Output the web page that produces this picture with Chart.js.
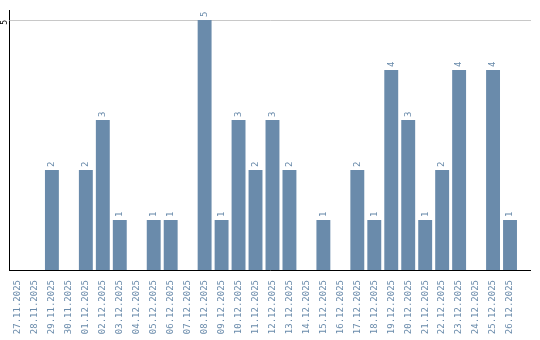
<!DOCTYPE html>
<html>
<head>
<meta charset="utf-8">
<script src="https://cdn.jsdelivr.net/npm/chart.js@4.4.1/dist/chart.umd.min.js"></script>
<style>
	html, body { margin: 0; padding: 0; background: #fff; }
	#wrap { width: 540px; height: 340px; }
</style>
</head>
<body>
<div id="wrap"><canvas id="myChart"></canvas></div>
<script>
const days = [
	'27.11.2025', '28.11.2025', '29.11.2025', '30.11.2025', '01.12.2025',
	'02.12.2025', '03.12.2025', '04.12.2025', '05.12.2025', '06.12.2025',
	'07.12.2025', '08.12.2025', '09.12.2025', '10.12.2025', '11.12.2025',
	'12.12.2025', '13.12.2025', '14.12.2025', '15.12.2025', '16.12.2025',
	'17.12.2025', '18.12.2025', '19.12.2025', '20.12.2025', '21.12.2025',
	'22.12.2025', '23.12.2025', '24.12.2025', '25.12.2025', '26.12.2025',
];
const counts = [0, 0, 2, 0, 2, 3, 1, 0, 1, 1, 0, 5, 1, 3, 2, 3, 2, 0, 1, 0, 2, 1, 4, 3, 1, 2, 4, 0, 4, 1];
const yTicks = [5];

const blue = '#6a8bab';

// value labels above bars, rotated like the axis labels
const barLabels = {
	id: 'barLabels',
	afterDatasetsDraw(chart) {
		const c = chart.ctx;
		const meta = chart.getDatasetMeta(0);
		c.save();
		c.fillStyle = blue;
		c.font = '9px "DejaVu Sans Mono"';
		c.textAlign = 'left';
		c.textBaseline = 'middle';
		meta.data.forEach((bar, i) => {
			const v = counts[i];
			if (!v) return;
			c.save();
			c.translate(bar.x, bar.y - 3);
			c.rotate(-Math.PI / 2);
			c.fillText(String(v), 0, 0);
			c.restore();
		});
		c.restore();
	},
};

// axis line and grid line run a bit past the last bar
const axisLines = {
	id: 'axisLines',
	beforeDatasetsDraw(chart) {
		const c = chart.ctx;
		const area = chart.chartArea;
		const y = chart.scales.y;
		const right = area.right + 12.5;
		c.save();
		c.lineWidth = 1;
		c.strokeStyle = '#c8c8c8';
		yTicks.forEach((t) => {
			const py = Math.round(y.getPixelForValue(t)) + 0.5;
			c.beginPath();
			c.moveTo(area.left, py);
			c.lineTo(right, py);
			c.stroke();
		});
		c.strokeStyle = '#000';
		const p0 = Math.round(y.getPixelForValue(0)) + 0.5;
		c.beginPath();
		c.moveTo(area.left, p0);
		c.lineTo(right, p0);
		c.stroke();
		c.restore();
	},
};

new Chart(document.getElementById('myChart'), {
	type: 'bar',
	data: {
		labels: days,
		datasets: [
			{
				data: counts,
				backgroundColor: blue,
				barPercentage: 0.82,
				categoryPercentage: 1,
			},
		],
	},
	plugins: [axisLines, barLabels],
	options: {
		responsive: true,
		maintainAspectRatio: false,
		animation: false,
		layout: { padding: { top: 10, right: 21.5, left: 0, bottom: 0 } },
		plugins: {
			legend: { display: false },
			tooltip: { enabled: false },
		},
		scales: {
			x: {
				grid: { display: false, drawTicks: false },
				border: { display: false },
				ticks: {
					color: blue,
					font: { family: 'DejaVu Sans Mono', size: 9 },
					minRotation: 90,
					maxRotation: 90,
					autoSkip: false,
					padding: 10,
				},
				afterFit(s) { s.height = 70; },
			},
			y: {
				min: 0,
				max: 5.2,
				grid: { display: false, drawTicks: false },
				border: { display: true, color: '#000', width: 1 },
				afterBuildTicks(s) { s.ticks = yTicks.map((v) => ({ value: v })); },
				ticks: {
					color: '#000',
					font: { family: 'DejaVu Sans Mono', size: 8 },
					minRotation: 90,
					maxRotation: 90,
					padding: 5,
				},
				afterFit(s) { s.width = 9.5; },
			},
		},
	},
});
</script>
</body>
</html>
